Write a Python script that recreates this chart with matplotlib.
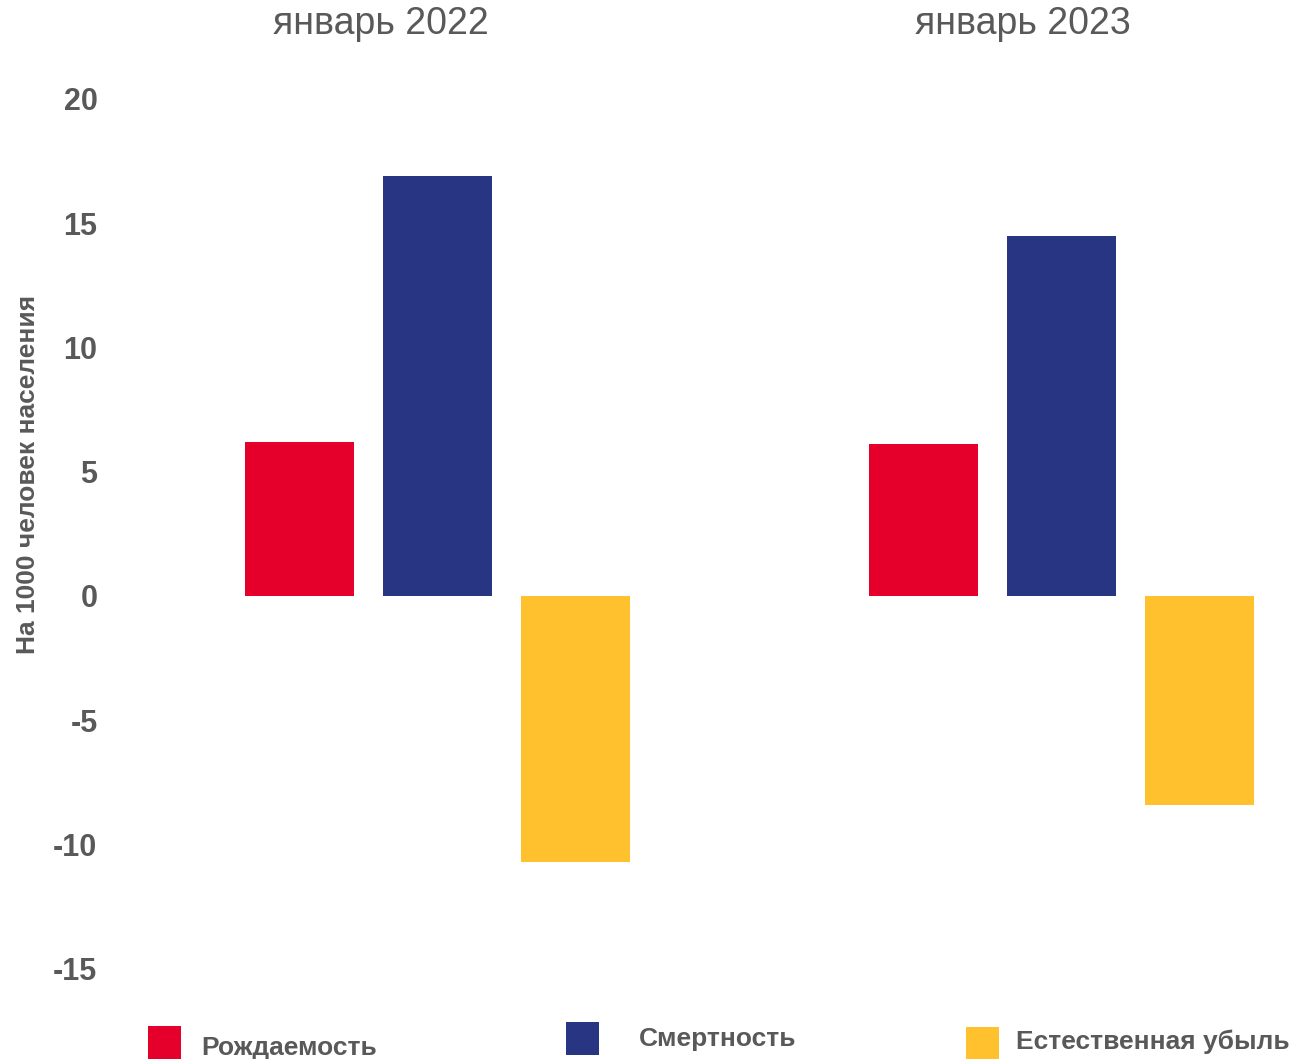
import numpy as np
import matplotlib
matplotlib.use("Agg")
import matplotlib.pyplot as plt
from matplotlib.patches import Rectangle

plt.rcParams['font.family'] = ['Liberation Sans', 'DejaVu Sans']

periods = ['январь 2022', 'январь 2023']
series = ['Рождаемость', 'Смертность', 'Естественная убыль']
birth = [6.2, 6.1]
death = [16.9, 14.5]
natural_loss = [-10.7, -8.4]
yticks = [-15, -10, -5, 0, 5, 10, 15, 20]

colors = ['#E4002B', '#283583', '#FFC12E']
gray = '#595959'

W, H = 1291, 1059
fig = plt.figure(figsize=(W / 100, H / 100), dpi=100)

# axes placed in pixel terms
ax_l, ax_r, ax_t, ax_b = 110, 1280, 40, 1000
ax = fig.add_axes([ax_l / W, 1 - ax_b / H, (ax_r - ax_l) / W, (ax_b - ax_t) / H])

step = 1.0
width = 0.79
group_gap = 4.525
x0 = np.arange(len(periods)) * group_gap

for j, vals in enumerate([birth, death, natural_loss]):
    ax.bar(x0 + (j - 1) * step, vals, width=width, color=colors[j], linewidth=0)

ax.set_xlim(-2.373, 6.105)
ax.set_ylim(-16.26, 22.37)
ax.set_yticks(yticks)
ax.set_yticklabels([str(t) for t in yticks], fontsize=22, fontweight='bold', color=gray)
ax.tick_params(axis='y', length=0, pad=9)
ax.set_xticks([])
for s in ax.spines.values():
    s.set_visible(False)

# period labels above groups (figure pixel positions)
title_x = [381, 1023]
for p, tx in zip(periods, title_x):
    fig.text(tx / W, 1 - 24 / H, p, ha='center', va='center', fontsize=27, color=gray)

fig.text(28 / W, 1 - 474 / H, 'На 1000 человек населения', rotation=90,
         ha='center', va='center', fontsize=19, fontweight='bold', color=gray)

# legend drawn by hand
legend_items = [
    (148, 1026, 201, 1048),
    (566, 1022, 639, 1039),
    (966, 1027, 1016, 1042),
]
for (sx, sy, tx, ty), lab, c in zip(legend_items, series, colors):
    fig.add_artist(Rectangle((sx / W, 1 - (sy + 33) / H), 33 / W, 33 / H,
                             transform=fig.transFigure, color=c, lw=0))
    fig.text(tx / W, 1 - ty / H, lab, ha='left', va='center',
             fontsize=19, fontweight='bold', color=gray)

fig.savefig('out.png', dpi=100)
